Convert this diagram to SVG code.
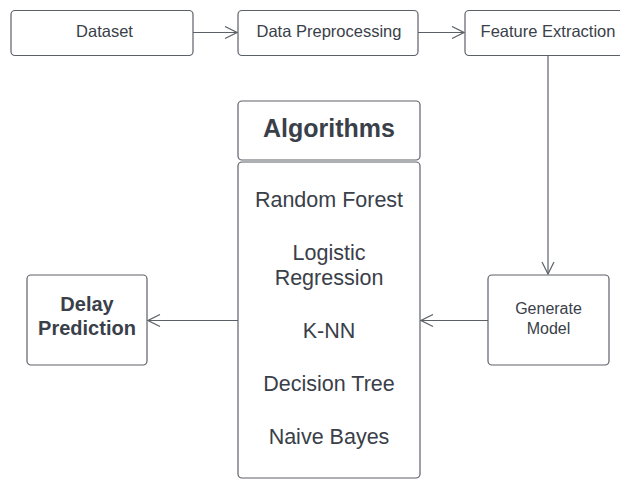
<svg xmlns="http://www.w3.org/2000/svg" width="620" height="479" viewBox="0 0 620 479">
  <style>
    .box { fill: #ffffff; stroke: #5c6168; stroke-width: 1.2; }
    .lbl { font-family: "Liberation Sans", Arial, sans-serif; fill: #3a4049; text-anchor: middle; }
    .sm { font-size: 16.5px; }
    .md { font-size: 16px; }
    .lg { font-size: 21.5px; }
    .hd { font-size: 25px; font-weight: bold; }
    .bd { font-size: 20px; font-weight: bold; }
    .edge { fill: none; stroke: #5c6168; stroke-width: 1.2; }
  </style>
  <defs>
    <marker id="open" viewBox="0 0 14 14" refX="13" refY="7" markerWidth="14" markerHeight="14" markerUnits="userSpaceOnUse" orient="auto">
      <path d="M1,1 L13,7 L1,13" fill="none" stroke="#5c6168" stroke-width="1.2"/>
    </marker>
  </defs>
  <rect width="620" height="479" fill="#ffffff"/>

  <!-- flow connectors -->
  <g id="edges">
    <path class="edge" d="M193,32.5 H237" marker-end="url(#open)"/>
    <path class="edge" d="M418,32.5 H464" marker-end="url(#open)"/>
    <path class="edge" d="M548,55 V274" marker-end="url(#open)"/>
    <path class="edge" d="M488,320.5 H421" marker-end="url(#open)"/>
    <path class="edge" d="M238,320.5 H148" marker-end="url(#open)"/>
  </g>

  <g id="dataset">
    <rect class="box" x="11" y="10.5" width="182" height="45" rx="4"/>
    <text class="lbl sm" x="104.5" y="37">Dataset</text>
  </g>
  <g id="preprocessing">
    <rect class="box" x="238" y="10.5" width="180" height="45" rx="4"/>
    <text class="lbl sm" x="329" y="37">Data Preprocessing</text>
  </g>
  <g id="features">
    <rect class="box" x="465" y="10.5" width="165" height="45" rx="4"/>
    <text class="lbl sm" x="548" y="37">Feature Extraction</text>
  </g>
  <g id="generate">
    <rect class="box" x="488" y="275" width="121" height="90" rx="4"/>
    <text class="lbl md" x="548.5" y="314">Generate</text>
    <text class="lbl md" x="548.5" y="334">Model</text>
  </g>
  <g id="algorithms-head">
    <rect class="box" x="238" y="101" width="182" height="59" rx="4"/>
    <text class="lbl hd" x="329" y="137">Algorithms</text>
  </g>
  <g id="algorithms-list">
    <rect class="box" x="238" y="162" width="182" height="316" rx="4"/>
    <text class="lbl lg" x="329" y="206.5">Random Forest</text>
    <text class="lbl lg" x="329" y="259.5">Logistic</text>
    <text class="lbl lg" x="329" y="285">Regression</text>
    <text class="lbl lg" x="329" y="337.5">K-NN</text>
    <text class="lbl lg" x="329" y="390.5">Decision Tree</text>
    <text class="lbl lg" x="329" y="443.5">Naive Bayes</text>
  </g>
  <g id="delay">
    <rect class="box" x="27" y="275" width="120" height="90" rx="4"/>
    <text class="lbl bd" x="87" y="311">Delay</text>
    <text class="lbl bd" x="87" y="335">Prediction</text>
  </g>
</svg>
